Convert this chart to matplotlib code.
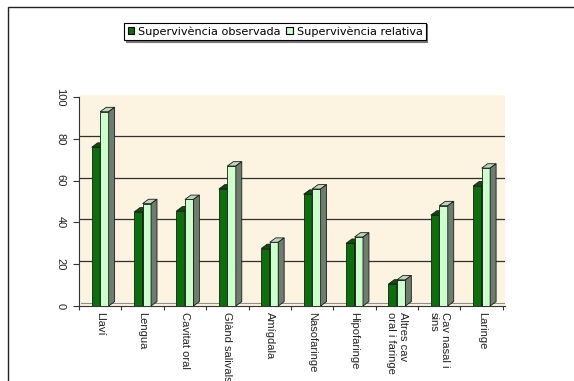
import numpy as np
import matplotlib.pyplot as plt
from matplotlib.patches import Polygon, Rectangle, Patch

plt.rcParams['font.family'] = ['Liberation Sans', 'DejaVu Sans']

categories = ['Llaví', 'Lengua', 'Cavitat oral', 'Glànd salivals', 'Amígdala',
              'Nasofaringe', 'Hipofaringe', 'Altres cav\noral i faringe',
              'Cav nasal i\nsins', 'Laringe']
observada = [76, 45, 45.5, 56, 27.5, 53.5, 30, 10.5, 43.5, 57.5]
relativa = [93, 49, 51, 67, 30.5, 56, 33, 12.5, 48, 66]
yticks = [0, 20, 40, 60, 80, 100]

W, H = 574, 381
fig = plt.figure(figsize=(W / 100, H / 100), dpi=100)
fig.patch.set_facecolor('white')

# axes placed in pixel terms: y axis at x=79, zero at y=306
ax = fig.add_axes([79 / W, (H - 306) / H, 426 / W, 211 / H])
ax.set_xlim(-0.5, 9.55)
ax.set_ylim(0, 101)
ax.set_facecolor('#FCF4E0')

# depth of the fake 3d bars (data units)
dx, dy = 0.14, 2.1
bw = 0.2


def bar3d(x0, h, front, side, top):
    ax.add_patch(Polygon([(x0, 0), (x0 + bw, 0), (x0 + bw, h), (x0, h)],
                         closed=True, fc=front, ec='#1a1a1a', lw=0.6, zorder=3))
    ax.add_patch(Polygon([(x0, h), (x0 + bw, h), (x0 + bw + dx, h + dy), (x0 + dx, h + dy)],
                         closed=True, fc=top, ec='#1a1a1a', lw=0.6, zorder=3))
    ax.add_patch(Polygon([(x0 + bw, 0), (x0 + bw + dx, dy), (x0 + bw + dx, h + dy), (x0 + bw, h)],
                         closed=True, fc=side, ec='#1a1a1a', lw=0.6, zorder=3))


# wall gridlines, pushed back by the depth
for v in yticks[1:-1]:
    ax.plot([-0.5, 9.55], [v + 1.5, v + 1.5], color='#303030', lw=0.9, zorder=1)

# floor
ax.plot([-0.5 + dx * 0.3, 9.55], [1.2, 1.2], color='#909090', lw=0.8, zorder=1)

x = np.arange(len(categories))
for i in x:
    bar3d(i - bw, observada[i], '#0B700B', '#054305', '#0A4F0A')
    bar3d(i, relativa[i], '#CCFFCC', '#6E7E6E', '#BCD6BC')

for s in ['top', 'right']:
    ax.spines[s].set_visible(False)
ax.spines['left'].set_bounds(0, 100)
ax.spines['left'].set_color('#333333')
ax.spines['bottom'].set_color('#333333')

ax.set_yticks(yticks)
ax.set_yticklabels([str(v) for v in yticks], rotation=270, va='center',
                   fontsize=8, color='#222222')
ax.tick_params(axis='y', length=4.3, width=0.8, pad=5.5, color='#333333')

ax.set_xticks(x)
ax.set_xticklabels(categories, rotation=270, ha='center', va='top',
                   multialignment='left', fontsize=8, color='#222222')
ax.tick_params(axis='x', which='major', length=0, pad=4.5)
ax.set_xticks(np.arange(-0.5, 10, 1), minor=True)
ax.tick_params(axis='x', which='minor', length=3, width=0.8, color='#333333')

handles = [Patch(fc='#0B700B', ec='black', lw=0.8, label='Supervivència observada'),
           Patch(fc='#CCFFCC', ec='black', lw=0.8, label='Supervivència relativa')]
leg = fig.legend(handles=handles, loc='center', bbox_to_anchor=(275 / W, 1 - 31.5 / H),
                 ncol=2, frameon=True, fancybox=False,
                 shadow={'color': '#777777', 'alpha': 1.0, 'ox': 1.0, 'oy': -1.0},
                 prop={'family': 'DejaVu Sans', 'size': 8.1},
                 handlelength=0.6, handleheight=0.6, handletextpad=0.35,
                 columnspacing=0.45, borderpad=0.3, borderaxespad=0)
leg.get_frame().set_edgecolor('black')
leg.get_frame().set_linewidth(0.8)

# outer chart border (only top and left edges fall inside the image)
fig.add_artist(Rectangle((8 / W, -0.2), 1.2, (H - 7) / H + 0.2, transform=fig.transFigure,
                         fill=False, ec='#222222', lw=1.0))

fig.savefig('out.png', dpi=100)
